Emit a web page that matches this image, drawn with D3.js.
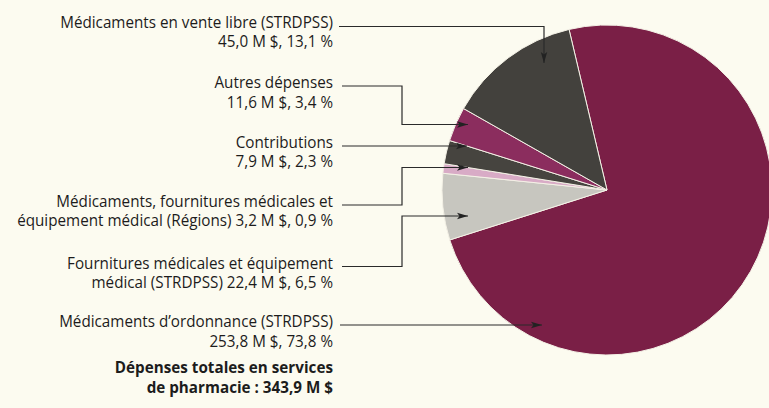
<!DOCTYPE html>
<html><head><meta charset="utf-8">
<script src="https://cdn.jsdelivr.net/npm/d3@7"></script>
<style>html,body{margin:0;padding:0;background:#fcfbf0;}svg{display:block;}</style>
</head><body>
<svg id="c" width="769" height="408"></svg>
<script>
// ---- data ----
const categories = [
  "Médicaments d’ordonnance (STRDPSS)",
  "Fournitures médicales et équipement médical (STRDPSS)",
  "Médicaments, fournitures médicales et équipement médical (Régions)",
  "Contributions",
  "Autres dépenses",
  "Médicaments en vente libre (STRDPSS)"
];
const values = [253.8, 22.4, 3.2, 7.9, 11.6, 45.0];        // M $
const percents = [73.8, 6.5, 0.9, 2.3, 3.4, 13.1];        // %
const nameLines = [
  ["Médicaments d’ordonnance (STRDPSS)"],
  ["Fournitures médicales et équipement", "médical (STRDPSS)"],
  ["Médicaments, fournitures médicales et", "équipement médical (Régions)"],
  ["Contributions"],
  ["Autres dépenses"],
  ["Médicaments en vente libre (STRDPSS)"]
];
const totalLines = ["Dépenses totales en services", "de pharmacie : 343,9 M $"];

// ---- styles / layout ----
const colors = ["#7a1f46", "#c7c6bf", "#d8abc6", "#46443f", "#8b2d5e", "#43413d"];
const W = 769, H = 408;
const cx = 607, cy = 190, R = 165;
const textRight = 333;
const labelOrder = [5, 4, 3, 2, 1, 0];
const firstBaseline = {5: 27.7, 4: 88.3, 3: 148, 2: 207, 1: 269, 0: 327.3};
const lineH = 19.2;
const leaders = {
  5: [[339, 26.5], [544, 26.5], [544, 63]],
  4: [[342, 86], [402, 86], [402, 124.5], [468, 124.5]],
  3: [[342, 146], [467, 146]],
  2: [[342, 205], [402, 205], [402, 167.5], [468, 167.5]],
  1: [[342, 266.5], [402, 266.5], [402, 216], [468, 216]],
  0: [[340, 325], [542, 325]]
};

const fr = d3.formatLocale({decimal: ",", thousands: " ", grouping: [3], currency: ["", " $"]});
const f1 = fr.format(".1f");
const valueText = i => `${f1(values[i])} M $, ${f1(percents[i])} %`;

const svg = d3.select("#c");
svg.append("rect").attr("width", W).attr("height", H).attr("fill", "#fcfbf0");

// ---- pie ----
const start = -13.3 * Math.PI / 180;
const pie = d3.pie().sort(null).value(d => d).startAngle(start).endAngle(start + 2 * Math.PI);
const arc = d3.arc().innerRadius(0).outerRadius(R);
const g = svg.append("g").attr("transform", `translate(${cx},${cy})`);
g.selectAll("path").data(pie(values)).join("path")
  .attr("d", arc)
  .attr("fill", (d, i) => colors[i])
  .attr("stroke", "#f4f1e6")
  .attr("stroke-width", 1);

// ---- font fit: keep size, condense horizontally ----
const fontFam = "'Open Sans', 'Noto Sans', sans-serif";
const fs = 15.5;
const probe = svg.append("text").attr("font-family", fontFam).attr("font-size", fs)
  .text("Médicaments en vente libre (STRDPSS)");
const wp = probe.node().getComputedTextLength();
probe.remove();
const sx = 273 / wp;

// ---- labels ----
const lab = svg.append("g").attr("font-family", fontFam).attr("font-size", fs)
  .attr("fill", "#1c1c1c").attr("text-anchor", "end");
function addText(t, y, bold) {
  lab.append("text").attr("transform", `translate(${textRight},${y}) scale(${sx},1)`)
    .attr("font-weight", bold ? "bold" : null).text(t);
}
labelOrder.forEach(i => {
  const lines = nameLines[i].slice();
  if (lines.length === 1) lines.push(valueText(i));
  else lines[lines.length - 1] += " " + valueText(i);
  lines.forEach((t, k) => addText(t, firstBaseline[i] + k * lineH, false));
});
totalLines.forEach((t, k) => addText(t, 373.3 + k * 19.5, true));

// ---- leaders ----
const defs = svg.append("defs");
defs.append("marker").attr("id", "ah").attr("viewBox", "0 -4 12 8")
  .attr("refX", 11).attr("refY", 0).attr("markerWidth", 12).attr("markerHeight", 8)
  .attr("markerUnits", "userSpaceOnUse").attr("orient", "auto")
  .append("path").attr("d", "M0,-3.2 L11,0 L0,3.2 L2.5,0 Z").attr("fill", "#222");
const line = d3.line();
labelOrder.forEach(i => {
  svg.append("path").attr("d", line(leaders[i]))
    .attr("fill", "none").attr("stroke", "#2a2a2a").attr("stroke-width", 1.2)
    .attr("marker-end", "url(#ah)");
});
</script>
</body></html>
